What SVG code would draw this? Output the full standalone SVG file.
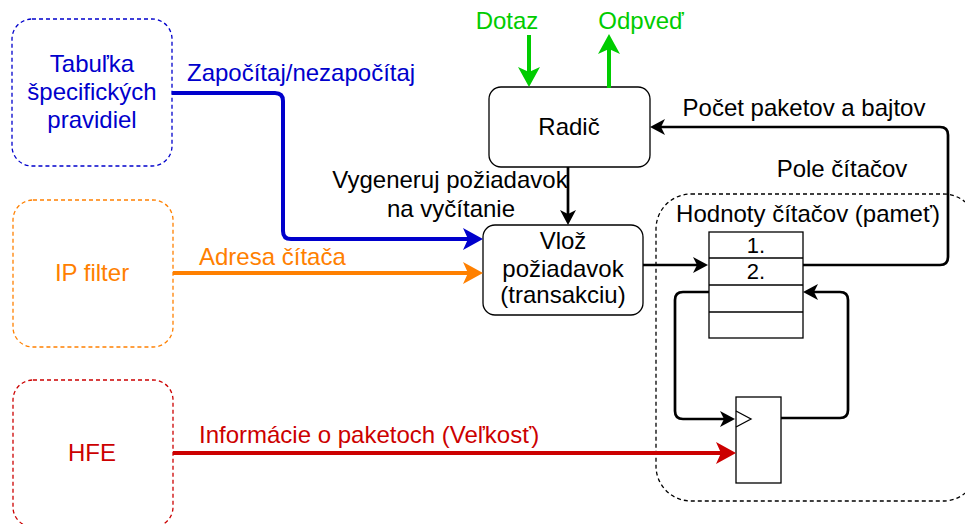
<svg xmlns="http://www.w3.org/2000/svg" width="965" height="524" viewBox="0 0 965 524">
<style>
text{font-family:"Liberation Sans",Arial,Helvetica,sans-serif;font-size:24px}
.c{text-anchor:middle}
.src{fill:#fff;stroke-width:1.3;stroke-dasharray:4 3}
.box{fill:#fff;stroke:#000;stroke-width:1.3}
.conn{fill:none;stroke-linejoin:round}
.k{stroke:#000;stroke-width:2.7}
.blue{stroke:#0000CC;stroke-width:4}
.orange{stroke:#FF8000;stroke-width:4}
.red{stroke:#CC0000;stroke-width:4}
.green{stroke:#00CC00;stroke-width:4}
</style>
<defs>
<marker id="aB" markerUnits="userSpaceOnUse" viewBox="0 0 20 22" markerWidth="20" markerHeight="22" refX="8" refY="11" orient="auto"><path d="M0,0 L20,11 L0,22 L5,11 Z" fill="#0000CC"/></marker>
<marker id="aO" markerUnits="userSpaceOnUse" viewBox="0 0 20 22" markerWidth="20" markerHeight="22" refX="8" refY="11" orient="auto"><path d="M0,0 L20,11 L0,22 L5,11 Z" fill="#FF8000"/></marker>
<marker id="aR" markerUnits="userSpaceOnUse" viewBox="0 0 20 22" markerWidth="20" markerHeight="22" refX="8" refY="11" orient="auto"><path d="M0,0 L20,11 L0,22 L5,11 Z" fill="#CC0000"/></marker>
<marker id="aG" markerUnits="userSpaceOnUse" viewBox="0 0 20 22" markerWidth="20" markerHeight="22" refX="8" refY="11" orient="auto"><path d="M0,0 L20,11 L0,22 L5,11 Z" fill="#00CC00"/></marker>
<marker id="aK" markerUnits="userSpaceOnUse" viewBox="0 0 15 16" markerWidth="15" markerHeight="16" refX="6" refY="8" orient="auto"><path d="M0,0 L15,8 L0,16 L4,8 Z" fill="#000"/></marker>
</defs>

<g id="pole-citacov">
<rect x="656" y="194" width="322" height="307" rx="35" fill="none" stroke="#000" stroke-width="1.3" stroke-dasharray="4 3"/>
<text class="c" x="842" y="177">Pole čítačov</text>
<text class="c" x="808" y="222">Hodnoty čítačov (pameť)</text>
</g>

<g id="tabulka">
<rect class="src" x="12" y="19" width="160" height="147" rx="20" stroke="#0000CC"/>
<text class="c" x="92" y="72" fill="#0000CC">Tabuľka</text>
<text class="c" x="92" y="100" fill="#0000CC">špecifických</text>
<text class="c" x="92" y="128" fill="#0000CC">pravidiel</text>
</g>

<g id="ipfilter">
<rect class="src" x="13" y="200" width="160" height="147" rx="20" stroke="#FF8000"/>
<text class="c" x="92" y="281" fill="#FF8000">IP filter</text>
</g>

<g id="hfe">
<rect class="src" x="13" y="380" width="160" height="147" rx="20" stroke="#CC0000"/>
<text class="c" x="92" y="461" fill="#CC0000">HFE</text>
</g>

<g id="radic">
<rect class="box" x="489" y="87" width="161" height="80" rx="12"/>
<text class="c" x="569" y="135">Radič</text>
</g>

<g id="vloz">
<rect class="box" x="483" y="225" width="160" height="90" rx="12"/>
<text class="c" x="563" y="249">Vlož</text>
<text class="c" x="563" y="277">požiadavok</text>
<text class="c" x="563" y="303">(transakciu)</text>
</g>

<g id="pamat">
<rect class="box" x="709" y="232" width="94" height="106"/>
<line x1="709" y1="258" x2="803" y2="258" stroke="#000" stroke-width="1.3"/>
<line x1="709" y1="285" x2="803" y2="285" stroke="#000" stroke-width="1.3"/>
<line x1="709" y1="312" x2="803" y2="312" stroke="#000" stroke-width="1.3"/>
<text class="c" x="756" y="253" style="font-size:22px">1.</text>
<text class="c" x="756" y="279" style="font-size:22px">2.</text>
</g>

<g id="register">
<rect class="box" x="736" y="397" width="45" height="86"/>
<polyline points="736,411 751,419 736,427" fill="none" stroke="#000" stroke-width="1.3"/>
</g>

<g id="connectors">
<path class="conn blue" d="M172,93 H275 Q283,93 283,101 V231 Q283,239 291,239 H471" marker-end="url(#aB)"/>
<text x="187" y="81" fill="#0000CC">Započítaj/nezapočítaj</text>
<path class="conn orange" d="M173,273 H471" marker-end="url(#aO)"/>
<text x="199" y="265" fill="#FF8000">Adresa čítača</text>
<path class="conn red" d="M173,453 H724" marker-end="url(#aR)"/>
<text x="199" y="443" fill="#CC0000">Informácie o paketoch (Veľkosť)</text>
<path class="conn green" d="M529,35 V75" marker-end="url(#aG)"/>
<text class="c" x="507" y="29" fill="#00CC00">Dotaz</text>
<path class="conn green" d="M609,88 V46" marker-end="url(#aG)"/>
<text class="c" x="641" y="29" fill="#00CC00">Odpveď</text>
<path class="conn k" d="M568,167 V216" marker-end="url(#aK)"/>
<text class="c" x="450" y="188">Vygeneruj požiadavok</text>
<text class="c" x="451" y="217">na vyčítanie</text>
<path class="conn k" d="M643,265 H699" marker-end="url(#aK)"/>
<path class="conn k" d="M803,265 H940 Q948,265 948,257 V135 Q948,127 940,127 H659" marker-end="url(#aK)"/>
<text class="c" x="804" y="116">Počet paketov a bajtov</text>
<path class="conn k" d="M709,292 H683 Q675,292 675,300 V411 Q675,419 683,419 H726" marker-end="url(#aK)"/>
<path class="conn k" d="M781,418 H840 Q848,418 848,410 V300 Q848,292 840,292 H812" marker-end="url(#aK)"/>
</g>
</svg>
